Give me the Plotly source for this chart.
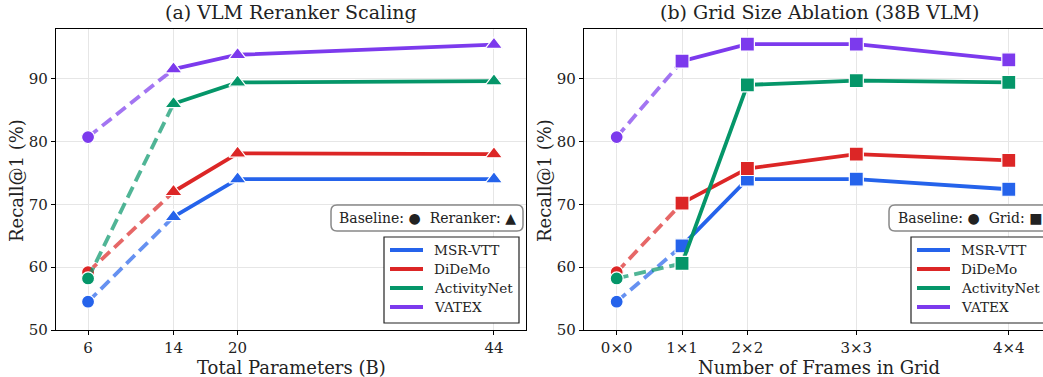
import plotly.graph_objects as go

# ---------------- data ----------------
datasets = ["MSR-VTT", "DiDeMo", "ActivityNet", "VATEX"]
colors = ["#2563eb", "#dc2626", "#059669", "#7c3aed"]
dash_colors = ["rgba(37,99,235,0.7)", "rgba(220,38,38,0.7)", "rgba(5,150,105,0.7)", "rgba(124,58,237,0.7)"]

# panel (a): VLM reranker scaling
params_b = [6, 14, 20, 44]
rerank_recall = {
    "MSR-VTT":     [54.5, 68.0, 74.0, 74.0],
    "DiDeMo":      [59.2, 72.0, 78.1, 78.0],
    "ActivityNet": [58.2, 86.0, 89.4, 89.6],
    "VATEX":       [80.7, 91.5, 93.8, 95.4],
}

# panel (b): grid size ablation (38B VLM)
grid_labels = ["0×0", "1×1", "2×2", "3×3", "4×4"]
grid_pos = [0, 3, 6, 11, 18]
grid_recall = {
    "MSR-VTT":     [54.5, 63.4, 74.0, 74.0, 72.4],
    "DiDeMo":      [59.2, 70.2, 75.7, 78.0, 77.0],
    "ActivityNet": [58.2, 60.6, 89.0, 89.7, 89.4],
    "VATEX":       [80.7, 92.8, 95.5, 95.5, 93.0],
}

y_ticks = [50, 60, 70, 80, 90]

# ---------------- layout helpers ----------------
W, H = 1043, 377
FONT = "DejaVu Serif"
INK = "#222"

def px(x):
    return x / W

def py(y):
    return 1 - y / H

def rounded_rect(x0, y0, x1, y1, r):
    pts = [
        f"M {px(x0 + r)} {py(y0)}",
        f"L {px(x1 - r)} {py(y0)}",
        f"Q {px(x1)} {py(y0)} {px(x1)} {py(y0 + r)}",
        f"L {px(x1)} {py(y1 - r)}",
        f"Q {px(x1)} {py(y1)} {px(x1 - r)} {py(y1)}",
        f"L {px(x0 + r)} {py(y1)}",
        f"Q {px(x0)} {py(y1)} {px(x0)} {py(y1 - r)}",
        f"L {px(x0)} {py(y0 + r)}",
        f"Q {px(x0)} {py(y0)} {px(x0 + r)} {py(y0)}",
        "Z",
    ]
    return " ".join(pts)

fig = go.Figure()

def add_panel(xs, data, xaxis, yaxis, symbol, msize):
    for i, name in enumerate(datasets):
        vals = data[name]
        fig.add_trace(go.Scatter(
            x=xs[:2], y=vals[:2], mode="lines", xaxis=xaxis, yaxis=yaxis,
            line=dict(color=dash_colors[i], width=3.8, dash="12px,6px"),
            showlegend=False, hoverinfo="skip"))
        fig.add_trace(go.Scatter(
            x=xs[1:], y=vals[1:], mode="lines+markers", xaxis=xaxis, yaxis=yaxis,
            line=dict(color=colors[i], width=3.8),
            marker=dict(symbol=symbol, size=msize, color=colors[i],
                        line=dict(color="white", width=1.2)),
            showlegend=False, name=name))
        fig.add_trace(go.Scatter(
            x=xs[:1], y=vals[:1], mode="markers", xaxis=xaxis, yaxis=yaxis,
            marker=dict(symbol="circle", size=13, color=colors[i],
                        line=dict(color="white", width=1.2)),
            showlegend=False, name=name + " baseline"))

add_panel(params_b, rerank_recall, "x", "y", "triangle-up", 15)
add_panel(grid_pos, grid_recall, "x2", "y2", "square", 14)

ydom = [py(330), py(29)]
axis_common = dict(
    showline=True, linecolor="black", linewidth=1.2,
    ticks="outside", ticklen=4, tickcolor="black", tickwidth=1,
    showgrid=True, gridcolor="#e6e6e6", gridwidth=1,
    zeroline=False, tickfont=dict(family=FONT, size=15, color=INK),
)

fig.update_layout(
    width=W, height=H,
    margin=dict(l=0, r=0, t=0, b=0, autoexpand=False),
    plot_bgcolor="white", paper_bgcolor="white",
    font=dict(family=FONT, color=INK),
    showlegend=False,
    xaxis=dict(domain=[px(56), px(526)], range=[3.0, 47.0],
               tickvals=params_b, ticktext=[str(v) for v in params_b],
               mirror=True, anchor="y", **axis_common),
    yaxis=dict(domain=ydom, range=[50, 97.9], tickvals=y_ticks,
               mirror=True, anchor="x", **axis_common),
    xaxis2=dict(domain=[px(584), 1.0], range=[-1.5, 19.57],
                tickvals=grid_pos, ticktext=grid_labels,
                mirror=True, anchor="y2", **axis_common),
    yaxis2=dict(domain=ydom, range=[50, 97.9], tickvals=y_ticks,
                mirror=False, anchor="x2", **axis_common),
)

shapes = []
ann = []

def text(x, y, s, size, angle=0, xanchor="center"):
    ann.append(dict(x=px(x), y=py(y), xref="paper", yref="paper", text=s, showarrow=False,
                    xanchor=xanchor, yanchor="middle", textangle=angle,
                    font=dict(family=FONT, size=size, color=INK)))

# marker-key boxes
shapes.append(dict(type="path", xref="paper", yref="paper", path=rounded_rect(331, 205, 523, 231, 6),
                   line=dict(color="#888", width=1.5), fillcolor="white", layer="above"))
shapes.append(dict(type="path", xref="paper", yref="paper", path=rounded_rect(889, 205, 1060, 231, 6),
                   line=dict(color="#888", width=1.5), fillcolor="white", layer="above"))
text(337, 218, "Baseline: ●&nbsp;&nbsp;Reranker: ▲", 14, xanchor="left")
text(896, 218, "Baseline: ●&nbsp;&nbsp;Grid: ■", 14, xanchor="left")

# dataset legends (drawn as boxes)
def legend_box(x0):
    shapes.append(dict(type="rect", xref="paper", yref="paper",
                       x0=px(x0), x1=px(x0 + 135), y0=py(323), y1=py(237),
                       line=dict(color=INK, width=1.2), fillcolor="white", layer="above"))
    for i, name in enumerate(datasets):
        yy = 250 + 19 * i
        shapes.append(dict(type="line", xref="paper", yref="paper",
                           x0=px(x0 + 6), x1=px(x0 + 39), y0=py(yy), y1=py(yy),
                           line=dict(color=colors[i], width=4), layer="above"))
        text(x0 + 48, yy, name, 13.6, xanchor="left")

legend_box(384)
legend_box(911)

# titles and axis labels
text(291, 12, "(a) VLM Reranker Scaling", 19)
text(819, 12, "(b) Grid Size Ablation (38B VLM)", 19)
text(291, 367, "Total Parameters (B)", 18)
text(819, 367, "Number of Frames in Grid", 18)
text(17, 181, "Recall@1 (%)", 18, angle=-90)
text(545, 181, "Recall@1 (%)", 18, angle=-90)

fig.update_layout(shapes=shapes, annotations=ann)

fig.write_html("out.html", config={"displayModeBar": False},
               post_script="document.body.style.margin='0';")
